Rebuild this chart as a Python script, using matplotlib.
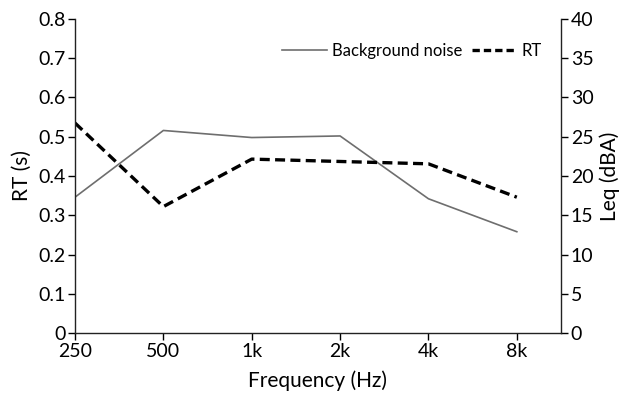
import matplotlib
matplotlib.use("Agg")
import matplotlib.pyplot as plt

plt.rcParams['font.family'] = ['Lato', 'DejaVu Sans']

freqs = ["250", "500", "1k", "2k", "4k", "8k"]
noise_leq = [17.3, 25.8, 24.9, 25.1, 17.1, 12.9]
rt_s = [0.535, 0.322, 0.443, 0.437, 0.431, 0.346]
rt_ticks = [0, 0.1, 0.2, 0.3, 0.4, 0.5, 0.6, 0.7, 0.8]
rt_ticklabels = ["0", "0.1", "0.2", "0.3", "0.4", "0.5", "0.6", "0.7", "0.8"]
leq_ticks = [0, 5, 10, 15, 20, 25, 30, 35, 40]

fig = plt.figure(figsize=(6.25, 3.99), dpi=100)
ax = fig.add_axes([0.12, 0.1654, 0.7776, 0.787])
ax2 = ax.twinx()

x = list(range(len(freqs)))
l2, = ax2.plot(x, noise_leq, color='#6e6e6e', lw=1.2, label='Background noise')
l1, = ax.plot(x, rt_s, color='black', lw=2.4, ls=(0, (3, 1.6)), label='RT')
ax.set_zorder(ax2.get_zorder() + 1)
ax.patch.set_visible(False)

ax.set_xlim(0, 5.5)
ax.set_ylim(0, 0.8)
ax2.set_ylim(0, 40)
ax.set_xticks(x)
ax.set_xticklabels(freqs)
ax.set_yticks(rt_ticks)
ax.set_yticklabels(rt_ticklabels)
ax2.set_yticks(leq_ticks)

for a in (ax, ax2):
    a.spines['top'].set_visible(False)
    for s in a.spines.values():
        s.set_color('#222222')
        s.set_linewidth(1.0)
    a.tick_params(colors='black', labelsize=14, length=5, width=1.0, direction='out', pad=2)
ax2.spines['left'].set_visible(False)
ax.spines['right'].set_visible(False)
ax2.spines['bottom'].set_visible(False)

ax.set_xlabel('Frequency (Hz)', fontsize=15, labelpad=8)
ax.set_ylabel('RT (s)', fontsize=15, labelpad=4)
ax2.set_ylabel('Leq (dBA)', fontsize=15, labelpad=4)

leg = ax.legend(handles=[l2, l1], loc='upper right', ncol=2, frameon=False,
                fontsize=12, handlelength=2.7, handletextpad=0.3, columnspacing=0.6,
                bbox_to_anchor=(0.975, 0.945), borderaxespad=0)
leg.get_lines()[1].set_linestyle((0, (2.2, 1.2)))

fig.savefig('out.png', dpi=100)
